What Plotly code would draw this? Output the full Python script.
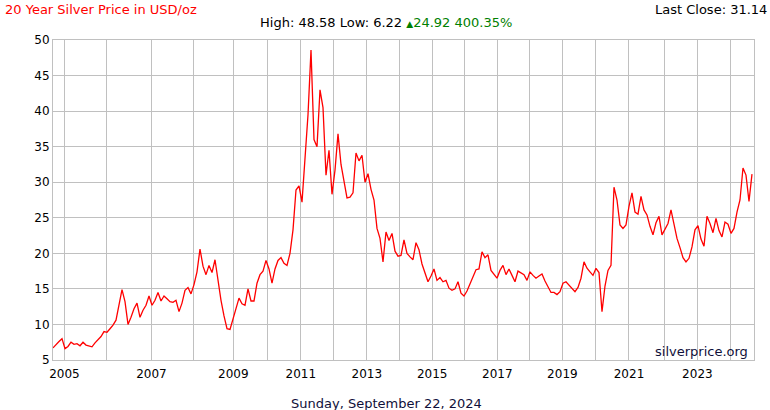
import plotly.graph_objects as go

# Silver price samples (USD/oz), evenly spaced along the chart's session index
prices = [
    6.7, 7.2, 7.6, 8.0, 6.6, 6.9, 7.5, 7.2, 7.3, 7.0,
    7.5, 7.1, 7.0, 6.85, 7.4, 7.8, 8.3, 9.0, 8.9, 9.4,
    9.9, 10.6, 13.0, 14.9, 13.2, 10.0, 11.0, 12.2, 13.0, 11.0,
    12.0, 12.7, 14.0, 12.7, 13.4, 14.5, 13.3, 14.0, 13.6, 13.2,
    13.1, 13.4, 11.8, 13.0, 14.8, 15.2, 14.3, 15.6, 17.4, 20.6,
    18.2, 17.0, 18.3, 17.3, 19.1, 16.2, 13.4, 11.2, 9.4, 9.3,
    10.9, 12.3, 13.7, 12.9, 12.7, 15.0, 13.3, 13.3, 15.8, 17.0,
    17.5, 19.0, 17.8, 15.8, 17.8, 19.0, 19.4, 18.6, 18.3, 20.0,
    23.3, 28.9, 29.5, 27.2, 33.0, 39.5, 48.58, 36.0, 35.0, 43.0,
    40.5, 31.0, 34.5, 28.3, 31.7, 36.8, 32.5, 30.3, 27.8, 27.9,
    28.5, 34.1, 33.0, 33.8, 30.0, 31.2, 29.0, 27.5, 23.5, 22.1,
    18.8, 23.0, 21.8, 22.8, 20.3, 19.6, 19.7, 21.9, 20.0, 19.5,
    19.1, 21.5, 20.5, 18.5, 17.2, 16.0, 16.8, 17.8, 16.2, 16.6,
    16.0, 16.2, 15.1, 14.8, 15.0, 16.0, 14.4, 14.0, 14.7, 15.7,
    16.6, 17.7, 17.8, 20.2, 19.4, 19.8, 17.6, 17.0, 16.5, 17.6,
    18.3, 17.0, 17.8, 16.9, 16.0, 17.5, 17.2, 17.0, 16.2, 17.4,
    16.9, 16.5, 16.8, 17.1, 16.1, 15.3, 14.5, 14.5, 14.2, 14.6,
    15.8, 16.0, 15.5, 15.1, 14.6, 15.2, 16.5, 18.8, 17.9, 17.4,
    16.9, 17.9, 17.3, 11.8, 15.4, 17.6, 18.3, 29.3, 27.5, 24.0,
    23.5, 24.0, 26.6, 28.5, 25.8, 25.5, 28.0, 26.1, 25.4, 23.8,
    22.6, 24.3, 25.2, 22.6, 23.4, 24.2, 26.1, 24.3, 22.1, 20.8,
    19.4, 18.8, 19.3, 20.9, 23.3, 23.9, 22.0, 21.0, 25.2, 24.2,
    22.9, 24.9, 23.2, 22.3, 24.4, 24.1, 22.8, 23.5, 25.8, 27.5,
    32.0, 31.0, 27.3, 31.14,
]

# Index of the first sample of each calendar year
year_start_index = [3.8, 17.9, 32.8, 46.8, 60.1, 71.4, 82.6, 93.4, 104.6, 115.4,
                    126.4, 137.2, 148.1, 158.8, 169.8, 180.9, 192.0, 203.8, 214.8, 225.7]
years = list(range(2005, 2025))
year_labels = [str(y) if (y - 2005) % 2 == 0 else "" for y in years]

y_ticks = [5, 10, 15, 20, 25, 30, 35, 40, 45, 50]

title_text = "20 Year Silver Price in USD/oz"
last_close_text = "Last Close: 31.14"
high_low_text = "High: 48.58 Low: 6.22 "
change_text = "24.92 400.35%"
date_text = "Sunday, September 22, 2024"
watermark_text = "silverprice.org"

FONT = "DejaVu Sans"
GRID = "#c0c0c0"
NAVY = "#10103a"

x_idx = list(range(len(prices)))

fig = go.Figure()
fig.add_trace(go.Scatter(
    x=x_idx, y=prices, mode="lines",
    line=dict(color="#ff0000", width=1.3),
    hoverinfo="skip", showlegend=False,
))

fig.update_layout(
    width=770, height=410,
    margin=dict(l=53, r=16, t=40, b=50),
    paper_bgcolor="white", plot_bgcolor="white",
    font=dict(family=FONT, size=12, color="#000000"),
    xaxis=dict(
        range=[0, 233.67], tickmode="array",
        tickvals=year_start_index, ticktext=year_labels,
        showgrid=True, gridcolor=GRID, gridwidth=1,
        showline=True, linecolor=GRID, linewidth=1, mirror=True,
        zeroline=False, ticks="", ticklabelstandoff=3,
        tickfont=dict(family=FONT, size=12, color="#000"),
    ),
    yaxis=dict(
        range=[5, 50], tickmode="array", tickvals=y_ticks,
        showgrid=True, gridcolor=GRID, gridwidth=1,
        showline=True, linecolor=GRID, linewidth=1, mirror=True,
        zeroline=False, ticks="", tickfont=dict(family=FONT, size=12, color="#000"),
    ),
    annotations=[
        dict(text=title_text, xref="paper", yref="paper",
             x=-0.071, y=1.094, xanchor="left", yanchor="middle", showarrow=False,
             font=dict(family=FONT, size=13, color="#ff0000")),
        dict(text=last_close_text, xref="paper", yref="paper",
             x=1.021, y=1.094, xanchor="right", yanchor="middle", showarrow=False,
             font=dict(family=FONT, size=13, color="#000000")),
        dict(text=high_low_text + "<span style='color:#008000'><span style='font-size:9px'>▲</span>"
             + change_text + "</span>",
             xref="paper", yref="paper",
             x=(386 - 53) / 701, y=(360 - 23) / 320, xanchor="center", yanchor="middle",
             showarrow=False, font=dict(family=FONT, size=13, color="#000000")),
        dict(text=watermark_text, xref="paper", yref="paper",
             x=(750 - 53) / 701, y=(360 - 351) / 320, xanchor="right", yanchor="middle",
             showarrow=False, font=dict(family=FONT, size=13, color=NAVY)),
        dict(text=date_text, xref="paper", yref="paper",
             x=(386 - 53) / 701, y=(360 - 403) / 320, xanchor="center", yanchor="middle",
             showarrow=False, font=dict(family=FONT, size=13, color=NAVY)),
    ],
)

fig.write_html("out.html", config={"displayModeBar": False})
